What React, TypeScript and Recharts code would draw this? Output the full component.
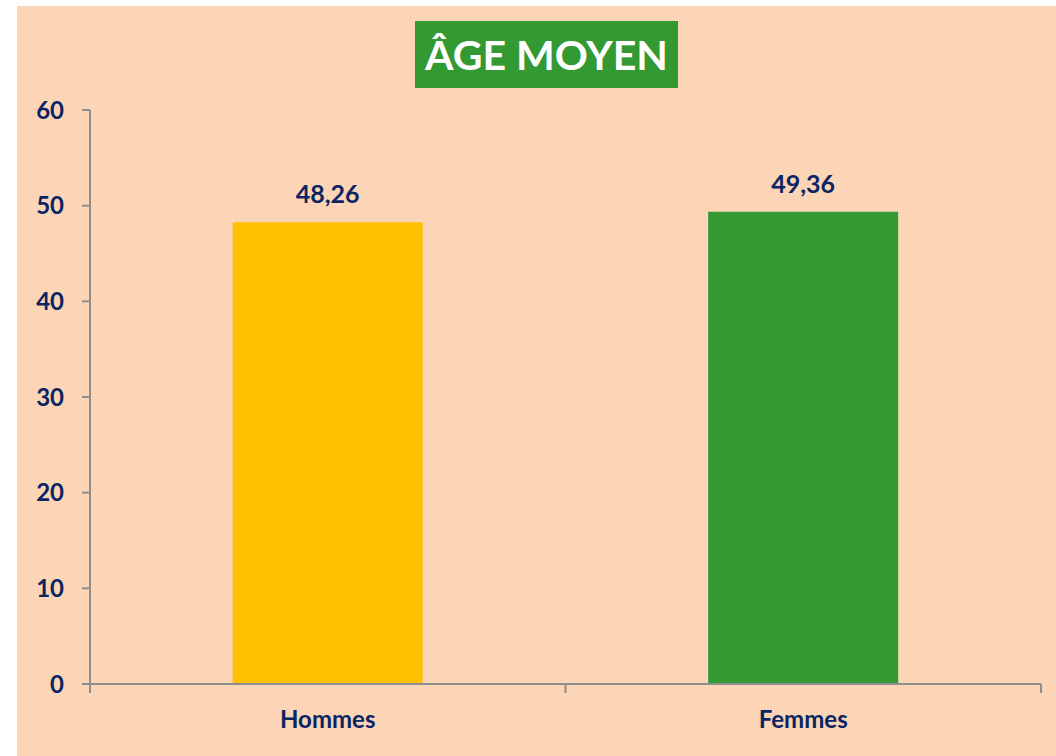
import React from "react";
import { BarChart, Bar, XAxis, YAxis, Cell, LabelList } from "recharts";

const categories = ["Hommes", "Femmes"];
const ages = [48.26, 49.36];
const barColors = ["#FFC000", "#339933"];
const yTicks = [0, 10, 20, 30, 40, 50, 60];
const boundaryTicks = [0, 1, 2];
const title = "ÂGE MOYEN";

const data = categories.map((c, i) => ({ name: c, age: ages[i], pos: i + 0.5 }));

const FONT = "Lato, 'Open Sans', sans-serif";
const NAVY = "#0B2463";
const AXIS = "#8E8E8E";

const fmt = (v: number) => v.toFixed(2).replace(".", ",");
const NoTick = () => <g />;

export default function App() {
  return (
    <div style={{ position: "absolute", left: 0, top: 0, width: 1056, height: 756, background: "#ffffff", overflow: "hidden" }}>
      <div style={{ position: "absolute", left: 17, top: 6, width: 1039, height: 750, background: "#FBD5B5" }}>
        <BarChart
          width={1039}
          height={750}
          data={data}
          margin={{ top: 104, right: 15, bottom: 21, left: 13 }}
          barCategoryGap="30%"
        >
          <XAxis
            xAxisId="a_edge"
            dataKey="pos"
            type="number"
            domain={[0, 2]}
            ticks={boundaryTicks}
            tick={NoTick}
            tickSize={9}
            height={1}
            axisLine={{ stroke: AXIS, strokeWidth: 2 }}
            tickLine={{ stroke: AXIS, strokeWidth: 2 }}
          />
          <XAxis
            dataKey="name"
            xAxisId="b_cat"
            axisLine={false}
            tickLine={false}
            tickMargin={20}
            height={50}
            tick={{ fill: NAVY, fontSize: 24, fontWeight: 700, fontFamily: FONT }}
          />
          <YAxis
            domain={[0, 60]}
            ticks={yTicks}
            width={60}
            tickSize={8}
            tickMargin={18}
            axisLine={{ stroke: AXIS, strokeWidth: 2 }}
            tickLine={{ stroke: AXIS, strokeWidth: 2 }}
            tick={{ fill: NAVY, fontSize: 24, fontWeight: 700, fontFamily: FONT }}
          />
          <Bar dataKey="age" xAxisId="b_cat" isAnimationActive={false}>
            {data.map((d, i) => (
              <Cell key={d.name} fill={barColors[i]} />
            ))}
            <LabelList
              dataKey="age"
              position="top"
              offset={19}
              formatter={(v: number) => fmt(v)}
              style={{ fill: NAVY, fontSize: 25, fontWeight: 700, fontFamily: FONT }}
            />
          </Bar>
        </BarChart>
        <div
          style={{
            position: "absolute",
            left: 398,
            top: 15,
            width: 263,
            height: 67,
            background: "#339933",
            color: "#ffffff",
            fontFamily: FONT,
            fontWeight: 700,
            fontSize: 41,
            display: "flex",
            alignItems: "center",
            justifyContent: "center",
            lineHeight: 1,
          }}
        >
          {title}
        </div>
      </div>
    </div>
  );
}
